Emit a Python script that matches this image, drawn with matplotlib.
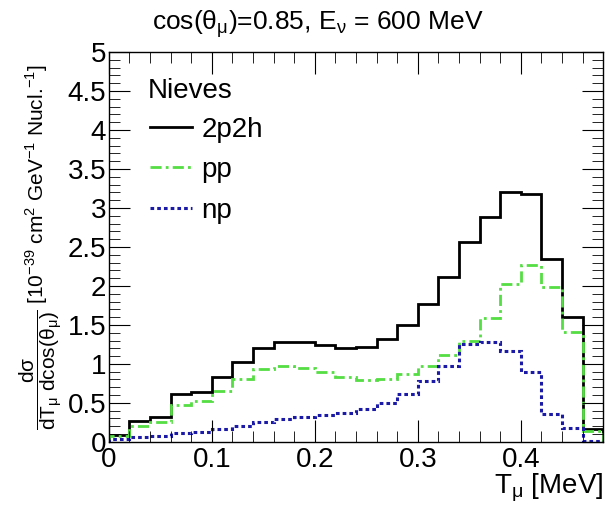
import numpy as np
import matplotlib
matplotlib.use('Agg')
import matplotlib.pyplot as plt

plt.rcParams['font.family'] = ['Liberation Sans', 'DejaVu Sans']
plt.rcParams['mathtext.fontset'] = 'custom'
plt.rcParams['mathtext.rm'] = 'Liberation Sans'
plt.rcParams['mathtext.it'] = 'Liberation Sans:italic'
plt.rcParams['mathtext.bf'] = 'Liberation Sans:bold'

# bin edges in T_mu, width 0.02
edges = np.round(np.arange(0, 0.4801, 0.02), 2)

# cross sections per bin [1e-39 cm2 GeV-1 Nucl-1]
xs_2p2h = [0.09, 0.27, 0.32, 0.61, 0.645, 0.83, 1.03, 1.21, 1.28, 1.28, 1.24, 1.21,
           1.22, 1.32, 1.50, 1.77, 2.11, 2.56, 2.88, 3.21, 3.18, 2.34, 1.60, 0.16]
xs_pp = [0.07, 0.20, 0.25, 0.47, 0.52, 0.65, 0.80, 0.93, 0.97, 0.95, 0.89, 0.83,
         0.79, 0.80, 0.87, 0.97, 1.12, 1.29, 1.59, 2.03, 2.27, 1.98, 1.41, 0.14]
xs_np = [0.04, 0.06, 0.07, 0.12, 0.13, 0.17, 0.21, 0.25, 0.29, 0.32, 0.35, 0.37,
         0.42, 0.50, 0.62, 0.78, 0.97, 1.26, 1.28, 1.16, 0.89, 0.36, 0.18, 0.01]

fig = plt.figure(figsize=(6.05, 5.05), dpi=100)
ax = fig.add_axes([0.180, 0.125, 0.817, 0.772])

ax.stairs(xs_2p2h, edges, color='black', lw=2.0, label='2p2h')
ax.stairs(xs_pp, edges, color='#55dd44', lw=2.0, linestyle=(0, (4, 1.5, 1, 1.5)), label='pp')
ax.stairs(xs_np, edges, color='#1a1aa6', lw=2.2, linestyle=(0, (1.2, 1.0)), label='np')

ax.set_xlim(0, 0.48)
ax.set_ylim(0, 5)
ax.set_xticks([0, 0.1, 0.2, 0.3, 0.4])
ax.set_xticklabels(['0', '0.1', '0.2', '0.3', '0.4'])
ax.set_xticks(np.arange(0, 0.481, 0.02), minor=True)
ax.set_yticks(np.arange(0, 5.01, 0.5))
ax.set_yticklabels(['0', '0.5', '1', '1.5', '2', '2.5', '3', '3.5', '4', '4.5', '5'])
ax.set_yticks(np.arange(0, 5.01, 0.1), minor=True)
ax.tick_params(which='both', direction='in', top=True, right=True, labelsize=20)
ax.tick_params(axis='x', which='major', length=16, pad=4)
ax.tick_params(axis='y', which='major', length=15, pad=2)
ax.tick_params(which='minor', length=8)
for s in ax.spines.values():
    s.set_linewidth(1.0)

ax.set_xlabel(r'T$_{\mathrm{\mu}}$ [MeV]', fontsize=20, loc='right', labelpad=-1)
ax.set_ylabel(r'$\dfrac{\mathrm{d\sigma}}{\mathrm{dT_{\mu}\ dcos(\theta_{\mu})}}$'
              r' [10$^{-39}$ cm$^{2}$ GeV$^{-1}$ Nucl.$^{-1}$]', fontsize=15, labelpad=2)
fig.text(0.525, 0.952, r'cos($\mathrm{\theta_{\mu}}$)=0.85, E$_{\mathrm{\nu}}$ = 600 MeV',
         fontsize=19, ha='center', va='center')

ax.text(0.079, 0.900, 'Nieves', transform=ax.transAxes, fontsize=20, va='center', ha='left')
leg = ax.legend(loc='upper left', bbox_to_anchor=(0.083, 0.834),
                frameon=False, fontsize=20,
                handlelength=1.5, handletextpad=0.35, labelspacing=0.52, borderaxespad=0,
                borderpad=0)

fig.savefig('out.png', dpi=100)
